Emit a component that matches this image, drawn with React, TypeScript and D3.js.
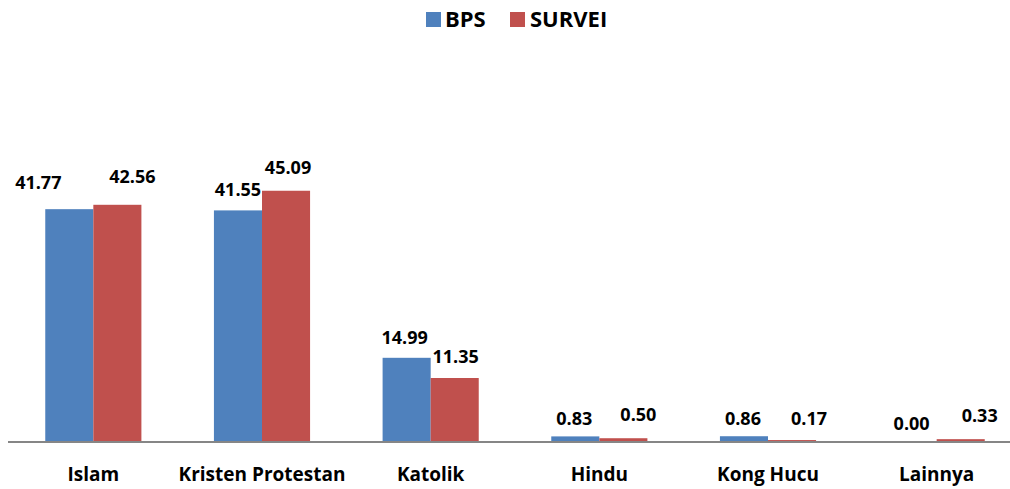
import React from "react";
import * as d3 from "d3";

const categories = ["Islam", "Kristen Protestan", "Katolik", "Hindu", "Kong Hucu", "Lainnya"];
const seriesNames = ["BPS", "SURVEI"];
const bpsValues = [41.77, 41.55, 14.99, 0.83, 0.86, 0.0];
const surveiValues = [42.56, 45.09, 11.35, 0.5, 0.17, 0.33];
const colors = ["#4F81BD", "#C0504D"];

// label nudges (style only), [dx, dy] per category per series
const labelNudge = [
  [[-31, -5], [15, -7]],
  [[0, 1], [2, -2]],
  [[-2, 1], [1, 0]],
  [[-1, 4], [15, -2]],
  [[-1, 4], [17, 0]],
  [[-1, 4], [19, -2]],
];

const W = 1010;
const H = 489;
const FONT = "'Open Sans', 'Liberation Sans', sans-serif";

export default function App() {
  const x = d3
    .scaleBand<string>()
    .domain(categories)
    .range([9, 1021])
    .paddingInner(0.43)
    .paddingOuter(0.215);
  const xs = d3.scaleBand<string>().domain(seriesNames).range([0, x.bandwidth()]);
  const y = d3.scaleLinear().domain([0, 70]).range([441, 441 - 70 * 5.55]);
  const series = [bpsValues, surveiValues];

  return (
    <svg
      width={W}
      height={H}
      style={{ position: "absolute", left: 0, top: 0, background: "#fff" }}
      fontFamily={FONT}
    >
      {/* legend */}
      <g>
        <rect x={426} y={12} width={15} height={15} fill={colors[0]} />
        <text x={445} y={27} fontSize={22} fontWeight={700} fill="#000">
          {seriesNames[0]}
        </text>
        <rect x={510} y={12} width={15} height={15} fill={colors[1]} />
        <text x={530} y={27} fontSize={22} fontWeight={700} fill="#000">
          {seriesNames[1]}
        </text>
      </g>
      {/* bars */}
      {categories.map((c, i) => (
        <g key={c} transform={`translate(${x(c)},0)`}>
          {series.map((vals, s) => {
            const v = vals[i];
            const top = y(v);
            const bx = xs(seriesNames[s])!;
            const [dx, dy] = labelNudge[i][s];
            return (
              <g key={s}>
                <rect x={bx} y={top} width={xs.bandwidth()} height={y(0) - top} fill={colors[s]} />
                <text
                  x={bx + xs.bandwidth() / 2 + dx}
                  y={top - 15 + dy}
                  textAnchor="middle"
                  fontSize={18}
                  fontWeight={700}
                  fill="#000"
                >
                  {v.toFixed(2)}
                </text>
              </g>
            );
          })}
        </g>
      ))}
      {/* axis line */}
      <line x1={8} x2={W} y1={y(0) + 1} y2={y(0) + 1} stroke="#868686" strokeWidth={2} />
      {/* category labels */}
      {categories.map((c) => (
        <text
          key={c}
          x={x(c)! + x.bandwidth() / 2}
          y={481}
          textAnchor="middle"
          fontSize={19}
          fontWeight={700}
          fill="#000"
        >
          {c}
        </text>
      ))}
    </svg>
  );
}
